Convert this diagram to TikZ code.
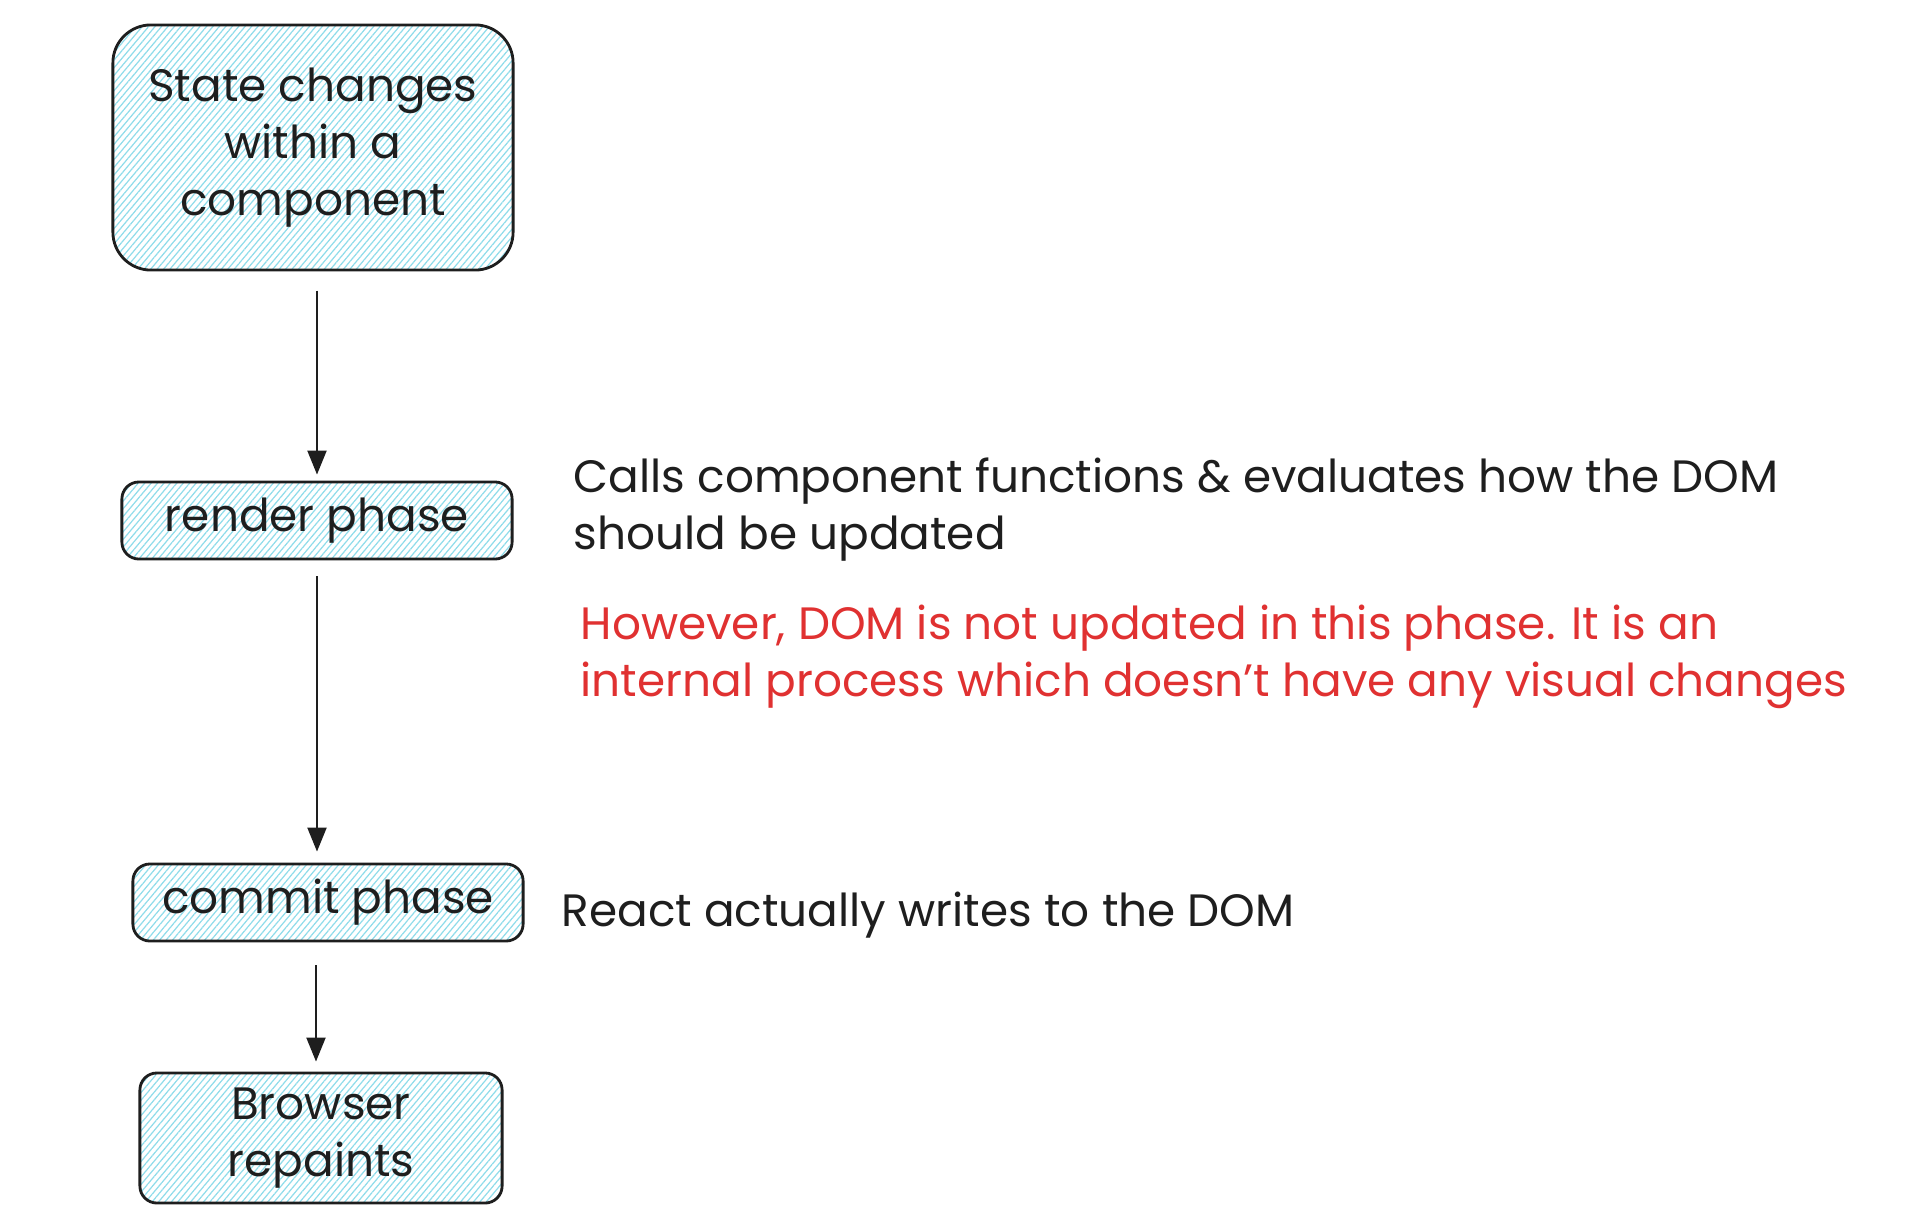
\documentclass[tikz,border=0pt]{standalone}
\usepackage{fontspec}
\setmainfont{Poppins}
\usetikzlibrary{arrows.meta,patterns.meta}

\definecolor{ink}{HTML}{1E1E1E}
\definecolor{hatch}{HTML}{8FDCEA}
\definecolor{warn}{HTML}{E03131}

\newcommand{\txtsize}{\fontsize{12.9}{16.2}\selectfont}
\newcommand{\pn}{\node[phase]}
\newcommand{\tn}{\node[note]}

\tikzset{
  phase/.style={draw=ink, line width=0.8pt, rounded corners=0.17cm,
    pattern={Lines[angle=50, distance=1.4pt, line width=0.35pt]}, pattern color=hatch,
    align=center, text=ink, font=\txtsize, inner sep=0pt},
  note/.style={anchor=west, align=left, text=ink, font=\txtsize, inner sep=0pt},
  flow/.style={draw=ink, line width=0.6pt, -{Triangle[length=0.24cm, width=0.19cm]}}
}

\begin{document}
\begin{tikzpicture}[x=0.01cm, y=-0.01cm]
            \useasboundingbox (0,0) rectangle (1918,1230);

            \pn[rounded corners=0.38cm, minimum width=4cm, minimum height=2.45cm]
                (state) at (313, 147.5) {State changes\\within a\\component};
            \pn[minimum width=3.9cm, minimum height=0.77cm] (render) at (317, 520.5) {render phase};
            \pn[minimum width=3.9cm, minimum height=0.77cm] (commit) at (328, 902.5) {commit phase};
            \pn[minimum width=3.62cm, minimum height=1.3cm] (browser) at (321, 1138) {Browser\\repaints};

            \tn (calls) at (573, 509.5) {Calls component functions \& evaluates how the DOM\\should be updated};
            \tn[text=warn] (however) at (580, 657) {However, DOM is not updated in this phase. It is an\\internal process which doesn't have any visual changes};
            \tn (writes) at (561, 915) {React actually writes to the DOM};

            \draw[flow, shorten <=0.2cm, shorten >=0.06cm] (render.north |- state.south) -- (render.north);
            \draw[flow, shorten <=0.16cm, shorten >=0.11cm] (render.south) -- (render.south |- commit.north);
            \draw[flow, shorten <=0.23cm, shorten >=0.1cm]
                ([xshift=-0.05cm]browser.north |- commit.south) -- ([xshift=-0.05cm]browser.north);
        \end{tikzpicture}
\end{document}
